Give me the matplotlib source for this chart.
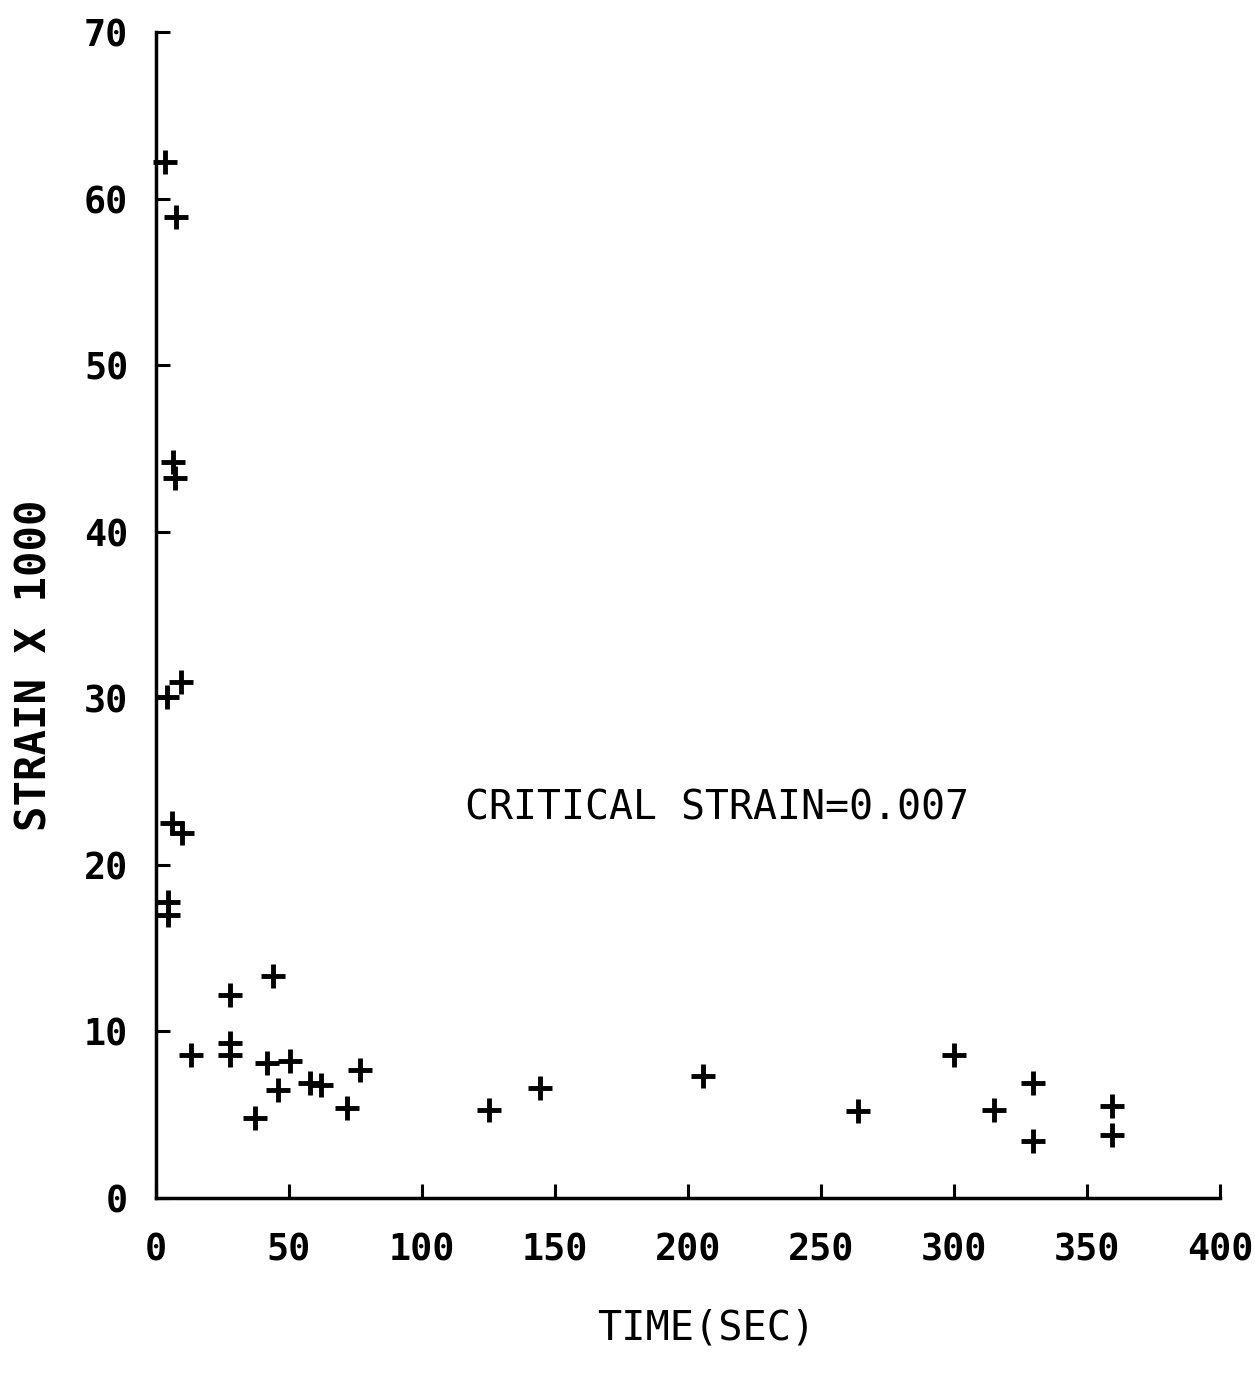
import matplotlib
matplotlib.use('Agg')
import matplotlib.pyplot as plt

# Messpunkte (Zeit in s, Dehnung x 1000)
time_sec = [3.4, 7.5, 6.4, 7.1, 9.3, 4.0, 5.9, 9.7, 4.6, 4.6,
            27.8, 43.9, 13.0, 27.8, 27.8, 41.6, 50.4, 46.0, 57.9, 61.9,
            76.7, 71.7, 37.2, 125.2, 144.4, 205.6, 263.9,
            300.0, 329.8, 315.2, 329.8, 359.5, 359.5]
strain = [62.2, 58.9, 44.2, 43.2, 31.0, 30.1, 22.5, 21.9, 17.8, 17.0,
          12.2, 13.3, 8.6, 9.3, 8.6, 8.1, 8.2, 6.5, 6.9, 6.8,
          7.7, 5.4, 4.8, 5.3, 6.6, 7.3, 5.2,
          8.6, 6.9, 5.3, 3.4, 5.5, 3.8]

x_ticks = [0, 50, 100, 150, 200, 250, 300, 350, 400]
y_ticks = [0, 10, 20, 30, 40, 50, 60, 70]

fig = plt.figure(figsize=(12.55, 13.75), dpi=100)
ax = fig.add_axes([0.1243, 0.1287, 0.8478, 0.8480])

ax.plot(time_sec, strain, linestyle='none', marker='+', color='black',
        markersize=17, markeredgewidth=3.5, clip_on=False)

ax.set_xlim(0, 400)
ax.set_ylim(0, 70)
ax.set_xticks(x_ticks)
ax.set_yticks(y_ticks)

for s in ['top', 'right']:
    ax.spines[s].set_visible(False)
for s in ['left', 'bottom']:
    ax.spines[s].set_linewidth(2.5)

ax.tick_params(direction='in', length=10, width=2.2)
ax.tick_params(axis='x', pad=24)
ax.tick_params(axis='y', pad=20)
for lab in ax.get_xticklabels() + ax.get_yticklabels():
    lab.set_family('DejaVu Sans Mono')
    lab.set_fontweight('bold')
    lab.set_fontsize(26.5)

ax.set_xlabel('TIME(SEC)', family='DejaVu Sans Mono', fontsize=29, va='center')
ax.xaxis.set_label_coords(0.517, -0.112)
ax.set_ylabel('STRAIN X 1000', family='DejaVu Sans Mono', fontweight='bold',
              fontsize=30.5, va='center')
ax.yaxis.set_label_coords(-0.114, 0.457)

ax.text(211, 23.4, 'CRITICAL STRAIN=0.007', family='DejaVu Sans Mono',
        fontsize=28.7, ha='center', va='center')

fig.savefig('out.png', dpi=100, facecolor='white')
